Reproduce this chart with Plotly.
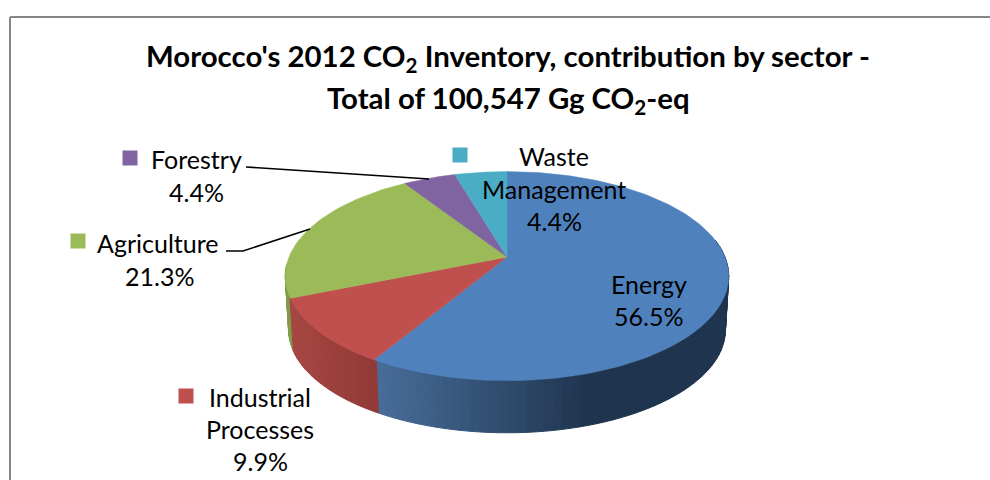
import math
import plotly.graph_objects as go

# ---- data ----
sectors = ["Energy", "Industrial Processes", "Agriculture", "Forestry", "Waste Management"]
label_percent = [56.5, 9.9, 21.3, 4.4, 4.4]
# share of the pie as actually drawn in the picture (labels sum to 98.5)
drawn_percent = [58.6, 10.2, 22.1, 4.55, 4.55]
top_colors = ["#4F81BD", "#C0504D", "#9BBB59", "#8064A2", "#4BACC6"]
title_line1 = "Morocco's 2012 CO<sub>2</sub> Inventory, contribution by sector -"
title_line2 = "Total of 100,547 Gg CO<sub>2</sub>-eq"

# ---- projection of the tilted disc ----
APEX_X, APEX_Y = 507, 257
R, S, K = 218, 101, 0.183
DEPTH, LOWER_SCALE = 54, 0.985
FONT = "Lato"

def project(deg, lower=False):
    a = math.radians(deg)
    u, v = math.sin(a), math.cos(a)
    w = 1 + K * v
    scale = LOWER_SCALE if lower else 1
    return (APEX_X + scale * R * u / w,
            APEX_Y + (DEPTH if lower else 0) - scale * S * v / w)

def lerp(c1, c2, t):
    t = max(0, min(1, t))
    return "rgb(%d,%d,%d)" % tuple(round(a + (b - a) * t) for a, b in zip(c1, c2))

total = sum(drawn_percent)
edges = [0]
for p in drawn_percent:
    edges.append(edges[-1] + p / total * 360)

def slice_index(deg):
    for i in range(len(sectors)):
        if edges[i] <= deg < edges[i + 1]:
            return i
    return 0

def side_color(i, x):
    if i == 0:
        return lerp((72, 110, 155), (31, 52, 78), (x - 375) / 215)
    if i == 1:
        return lerp((166, 70, 66), (146, 58, 55), (x - 292) / 80)
    return lerp((128, 156, 72), (128, 156, 72), 0)

fig = go.Figure()

# rim strips, back to front
STEP = 2
angles = list(range(80, 266, STEP))
angles.sort(key=lambda d: -abs(d - 180))
for d in angles:
    mid = d + STEP / 2
    i = slice_index(mid % 360)
    p1, p2 = project(d), project(d + STEP)
    q1, q2 = project(d, True), project(d + STEP, True)
    col = side_color(i, project(mid)[0])
    fig.add_trace(go.Scatter(
        x=[p1[0], p2[0], q2[0], q1[0], p1[0]], y=[p1[1], p2[1], q2[1], q1[1], p1[1]],
        mode="lines", fill="toself", fillcolor=col, line=dict(color=col, width=1),
        hoverinfo="skip", showlegend=False))

# top faces
for i, name in enumerate(sectors):
    n = max(4, int((edges[i + 1] - edges[i]) / 1.5))
    arc = [project(edges[i] + (edges[i + 1] - edges[i]) * j / n) for j in range(n + 1)]
    xs = [APEX_X] + [p[0] for p in arc] + [APEX_X]
    ys = [APEX_Y] + [p[1] for p in arc] + [APEX_Y]
    fig.add_trace(go.Scatter(
        x=xs, y=ys, mode="lines", fill="toself", fillcolor=top_colors[i],
        line=dict(color=top_colors[i], width=0.5), name=name,
        hovertemplate=f"{name}: {label_percent[i]}%<extra></extra>", showlegend=False))

# labels: one text per row
def fmt(i):
    return f"{label_percent[i]:.1f}%"

rows = [
    ("Forestry", 196, 159), (fmt(3), 196, 192),
    ("Waste", 554, 156), ("Management", 554, 189), (fmt(4), 554, 221),
    ("Agriculture", 158, 243), (fmt(2), 159, 276),
    ("Energy", 649, 284), (fmt(0), 648, 316),
    ("Industrial", 260, 397), ("Processes", 260, 429), (fmt(1), 260, 461),
]
annotations = [dict(text=t, x=x, y=y, xref="x", yref="y", showarrow=False,
                    xanchor="center", yanchor="middle",
                    font=dict(family=FONT, size=25, color="#000000"))
               for t, x, y in rows]
annotations.append(dict(text=title_line2, x=508, y=99, xref="x", yref="y", showarrow=False,
                        xanchor="center", yanchor="middle",
                        font=dict(family=FONT, size=29.4, color="#000000", weight="bold")))

# legend keys
keys = [(3, 130, 158), (4, 460, 155), (2, 78, 241), (1, 186, 396)]
for i, x, y in keys:
    fig.add_trace(go.Scatter(x=[x], y=[y], mode="markers", hoverinfo="skip", showlegend=False,
                             marker=dict(symbol="square", size=15, color=top_colors[i])))

# leader lines
for xs, ys in [([246, 429], [167, 179]), ([226, 243, 310], [251, 251, 229])]:
    fig.add_trace(go.Scatter(x=xs, y=ys, mode="lines", hoverinfo="skip", showlegend=False,
                             line=dict(color="#000000", width=1.6)))

fig.update_layout(
    width=990, height=480, margin=dict(l=0, r=0, t=0, b=0),
    paper_bgcolor="#ffffff", plot_bgcolor="#ffffff", showlegend=False,
    title=dict(text=title_line1, x=508 / 990, xanchor="center", y=1 - 56.5 / 480, yanchor="middle",
               font=dict(family=FONT, size=29.4, color="#000000", weight="bold")),
    xaxis=dict(range=[0, 990], visible=False, fixedrange=True),
    yaxis=dict(range=[480, 0], visible=False, fixedrange=True),
    annotations=annotations,
    shapes=[dict(type="line", xref="x", yref="y", x0=10, y0=480, x1=10, y1=17,
                 line=dict(color="#868686", width=2)),
            dict(type="line", xref="x", yref="y", x0=10, y0=17, x1=990, y1=17,
                 line=dict(color="#868686", width=2))],
)
fig.write_html("out.html", config={"displayModeBar": False},
               post_script="document.body.style.margin='0';document.body.style.overflow='hidden';")
